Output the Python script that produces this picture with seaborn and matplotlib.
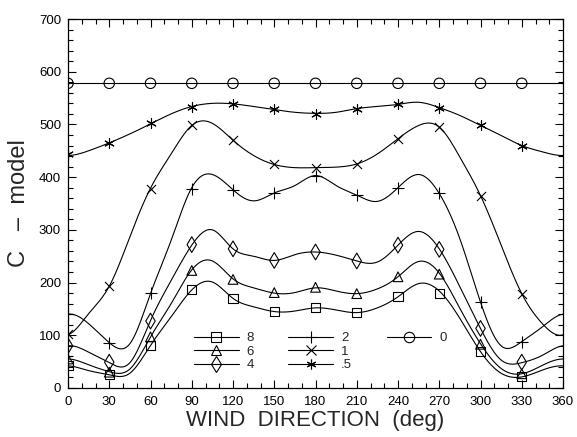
import numpy as np
import pandas as pd
import matplotlib
matplotlib.use("Agg")
import matplotlib.pyplot as plt
from matplotlib.lines import Line2D
from matplotlib.ticker import MultipleLocator
import seaborn as sns

# ---------------- data ----------------
# marker values (every 30 deg)
wind_dir = [0, 30, 60, 90, 120, 150, 180, 210, 240, 270, 300, 330]
series_labels = ["8", "6", "4", "2", "1", ".5", "0"]
c_8 = [42, 25, 81, 186, 170, 145, 152, 143, 173, 179, 69, 21]
c_6 = [55, 30, 97, 223, 206, 181, 191, 179, 211, 216, 83, 27]
c_4 = [80, 49, 127, 272, 264, 242, 258, 241, 271, 263, 113, 49]
c_2 = [140, 86, 181, 378, 376, 370, 403, 367, 380, 370, 163, 88]
c_1 = [102, 194, 378, 498, 470, 424, 418, 425, 473, 495, 365, 179]
c_05 = [443, 465, 502, 534, 539, 529, 520, 530, 538, 532, 498, 460]
c_0 = [578, 578, 578, 578, 578, 578, 578, 578, 578, 578, 578, 578]

# model curve values (every 15 deg, periodic)
curve_dir = [0, 15, 30, 45, 60, 75, 90, 105, 120, 135, 150, 165,
             180, 195, 210, 225, 240, 255, 270, 285, 300, 315, 330, 345]
curve_8 = [42, 33, 25, 28, 81, 135, 186, 201, 170, 154, 145, 146,
           152, 148, 143, 152, 173, 198, 184, 132, 69, 28, 21, 34]
curve_6 = [55, 44, 31, 36, 97, 160, 224, 241, 207, 190, 180, 181,
           190, 184, 179, 188, 211, 240, 218, 151, 84, 37, 27, 43]
curve_4 = [80, 68, 48, 48, 128, 204, 271, 300, 264, 250, 242, 253,
           258, 252, 241, 239, 271, 297, 264, 192, 113, 53, 48, 62]
curve_2 = [140, 122, 86, 84, 179, 280, 380, 405, 376, 355, 370, 384,
           403, 384, 366, 354, 380, 405, 369, 283, 163, 80, 88, 116]
curve_1 = [101, 141, 193, 287, 379, 444, 498, 502, 470, 441, 424, 418,
           418, 419, 425, 444, 473, 498, 495, 438, 365, 271, 179, 122]
curve_05 = [441, 450, 465, 482, 501, 520, 534, 540, 539, 534, 528, 523,
            521, 523, 530, 534, 538, 542, 532, 517, 498, 479, 460, 448]
curve_0 = [578] * 24

x_ticks = [0, 30, 60, 90, 120, 150, 180, 210, 240, 270, 300, 330, 360]
y_ticks = [0, 100, 200, 300, 400, 500, 600, 700]

series_values = [c_8, c_6, c_4, c_2, c_1, c_05, c_0]
curve_values = [curve_8, curve_6, curve_4, curve_2, curve_1, curve_05, curve_0]
markers = ["s", "^", "d", "+", "x", (6, 2, 0), "o"]
msizes = [6.5, 7, 8, 8, 6.5, 7, 7.5]


def periodic_spline(x, y, xs):
    x = np.asarray(x, float)
    y = np.asarray(y, float)
    n = len(x)
    h = x[1] - x[0]
    A = np.zeros((n, n))
    b = np.zeros(n)
    for i in range(n):
        A[i, (i - 1) % n] = 1
        A[i, i] = 4
        A[i, (i + 1) % n] = 1
        b[i] = 6.0 / h ** 2 * (y[(i - 1) % n] - 2 * y[i] + y[(i + 1) % n])
    M = np.linalg.solve(A, b)
    out = np.empty(len(xs))
    for k, t in enumerate(xs):
        i = int(min(np.floor((t - x[0]) / h), n - 1))
        j = (i + 1) % n
        x0 = x[0] + i * h
        x1 = x0 + h
        out[k] = (M[i] * (x1 - t) ** 3 / (6 * h) + M[j] * (t - x0) ** 3 / (6 * h)
                  + (y[i] / h - M[i] * h / 6) * (x1 - t)
                  + (y[j] / h - M[j] * h / 6) * (t - x0))
    return out


sns.set_style("ticks")
plt.rcParams["font.family"] = ["Liberation Sans", "DejaVu Sans"]

fig = plt.figure(figsize=(5.77, 4.37), dpi=100)
ax = fig.add_axes([68 / 577, 1 - 388 / 437, (563 - 68) / 577, (388 - 19) / 437])

xs = np.linspace(0, 360, 721)
handles = []
for lab, vals, cvals, mk, ms in zip(series_labels, series_values, curve_values,
                                    markers, msizes):
    smooth = periodic_spline(curve_dir, cvals, xs)
    df_line = pd.DataFrame({"x": xs, "y": smooth})
    sns.lineplot(data=df_line, x="x", y="y", ax=ax, color="k", lw=0.8, sort=False)
    df_pts = pd.DataFrame({"x": wind_dir, "y": vals})
    filled = mk in ("s", "^", "d", "o")
    if filled:
        sns.scatterplot(data=df_pts, x="x", y="y", ax=ax, marker=mk, s=ms ** 2,
                        facecolor="none", edgecolor="k", linewidth=0.8, zorder=3)
    else:
        sns.scatterplot(data=df_pts, x="x", y="y", ax=ax, marker=mk, s=ms ** 2,
                        color="k", linewidth=0.8, zorder=3)
    handles.append(Line2D([], [], color="k", lw=0.8, marker=mk, markersize=ms,
                          fillstyle="none", markeredgewidth=0.8, label=lab))

# pad so that the legend columns read (8,6,4) (2,1,.5) (0)
blank = Line2D([], [], color="none", label=" ")
handles = handles + [blank, blank]

ax.set_xlim(0, 360)
ax.set_ylim(0, 700)
ax.set_xticks(x_ticks)
ax.set_yticks(y_ticks)
ax.xaxis.set_minor_locator(MultipleLocator(10))
ax.yaxis.set_minor_locator(MultipleLocator(20))
ax.tick_params(which="both", direction="in", top=True, right=True, colors="k",
               width=0.8)
ax.tick_params(which="major", length=6, labelsize=9.5)
ax.tick_params(axis="x", which="major", pad=6)
ax.tick_params(axis="y", which="major", pad=5)
ax.tick_params(which="minor", length=3.5)
for sp in ax.spines.values():
    sp.set_linewidth(0.9)
    sp.set_color("k")

ax.set_xlabel("WIND  DIRECTION  (deg)", fontsize=16, labelpad=1)
ax.set_ylabel("C   –  model", fontsize=17, labelpad=6)

leg = fig.legend(handles=handles, ncol=3, loc="upper left",
                 bbox_to_anchor=(194 / 577, 1 - 332 / 437),
                 bbox_transform=fig.transFigure, frameon=False,
                 fontsize=9.5, handlelength=3.4, handletextpad=0.6,
                 columnspacing=2.6, labelspacing=0.1, borderpad=0,
                 borderaxespad=0)

fig.savefig("out.png", dpi=100)
